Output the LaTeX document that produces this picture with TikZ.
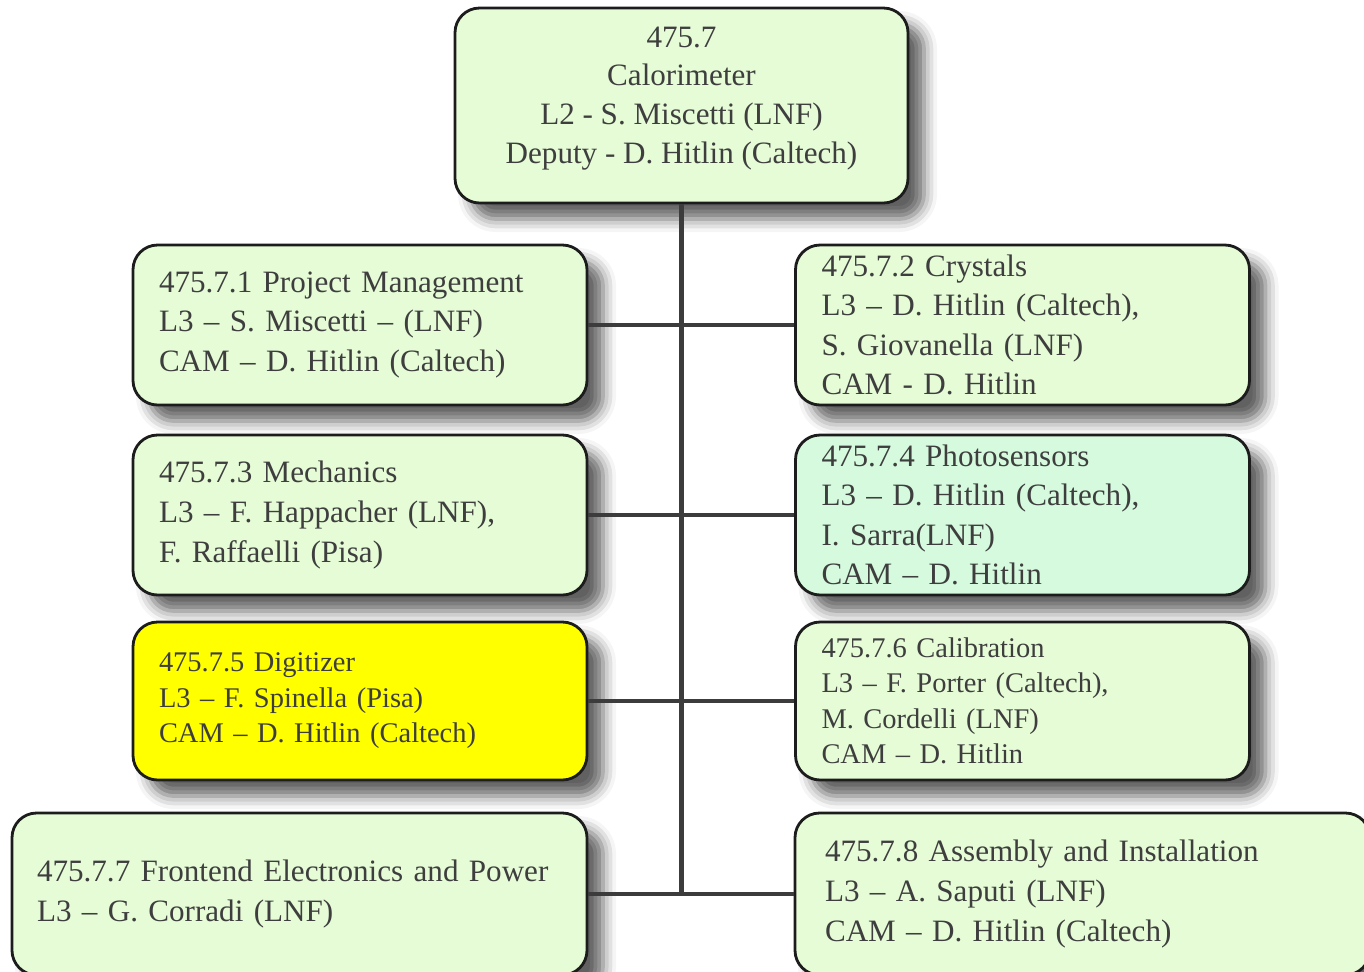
\documentclass[tikz,border=0pt]{standalone}
\usepackage{fontspec}
\setmainfont{Liberation Serif}
\usepackage{xcolor}
\definecolor{wbsgreen}{RGB}{229, 252, 214}
\definecolor{wbsmint}{RGB}{214, 250, 222}
\definecolor{wbsyellow}{RGB}{255, 255, 0}
\definecolor{wbstext}{RGB}{62, 62, 62}
\definecolor{wbsline}{RGB}{60, 60, 60}
\definecolor{wbsedge}{RGB}{28, 28, 28}
\usetikzlibrary{shadows.blur}

\begin{document}
\begin{tikzpicture}[
    wbs/.style={draw=wbsedge, line width=1.6pt, rounded corners=14pt, fill=#1, text=wbstext,
        blur shadow={shadow xshift=0.32cm, shadow yshift=-0.32cm, shadow blur radius=0.26cm, shadow opacity=62},
        font=\fontsize{17.7}{22.5}\selectfont, inner ysep=0pt, minimum height=3.2cm},
    wbs/.default=wbsgreen,
    task/.style={wbs=#1, align=left, text width=8.04cm, inner xsep=0.52cm},
    task/.default=wbsgreen,
    small/.style={font=\fontsize{16.2}{20.2}\selectfont},
    link/.style={draw=wbsline, line width=2.3pt}
]

% picture frame
\clip (0,0) rectangle (27.28,-19.42);

% L2
\node[wbs, align=center, minimum width=9.06cm, minimum height=3.9cm, font=\fontsize{17.7}{22}\selectfont,
      text depth=0.42cm] (calo) at (13.63,-2.11)
    {475.7\\Calorimeter\\L2 - S. Miscetti (LNF)\\Deputy - D. Hitlin (Caltech)};

% L3, left column
\node[task] (mgmt) at (7.2,-6.5)
    {475.7.1 Project Management\\L3 -- S. Miscetti -- (LNF)\\CAM -- D. Hitlin (Caltech)};
\node[task] (mech) at (7.2,-10.3)
    {475.7.3 Mechanics\\L3 -- F. Happacher (LNF),\\F. Raffaelli (Pisa)};
\node[task=wbsyellow, small, minimum height=3.16cm] (digi) at (7.2,-14.02)
    {475.7.5 Digitizer\\L3 -- F. Spinella (Pisa)\\CAM -- D. Hitlin (Caltech)};
\node[task, text width=10.5cm, inner xsep=0.5cm, minimum height=3.24cm] (fee) at (5.99,-17.88)
    {475.7.7 Frontend Electronics and Power\\L3 -- G. Corradi (LNF)};

% L3, right column
\node[task] (crystals) at (20.45,-6.5)
    {475.7.2 Crystals\\L3 -- D. Hitlin (Caltech),\\S. Giovanella (LNF)\\CAM - D. Hitlin};
\node[task=wbsmint] (photo) at (20.45,-10.3)
    {475.7.4 Photosensors\\L3 -- D. Hitlin (Caltech),\\I. Sarra(LNF)\\CAM -- D. Hitlin};
\node[task, small, minimum height=3.16cm] (calib) at (20.45,-14.02)
    {475.7.6 Calibration\\L3 -- F. Porter (Caltech),\\M. Cordelli (LNF)\\CAM -- D. Hitlin};
\node[task, text width=10.3cm, inner xsep=0.6cm, minimum height=3.24cm] (assembly) at (21.65,-17.88)
    {475.7.8 Assembly and Installation\\L3 -- A. Saputi (LNF)\\CAM -- D. Hitlin (Caltech)};

% tree lines
\draw[link] (calo.south) -- (calo.south |- fee.east);
\foreach \l/\r in {mgmt/crystals, mech/photo, digi/calib, fee/assembly}
    \draw[link] (\l.east) -- (\r.west);

\end{tikzpicture}
\end{document}
